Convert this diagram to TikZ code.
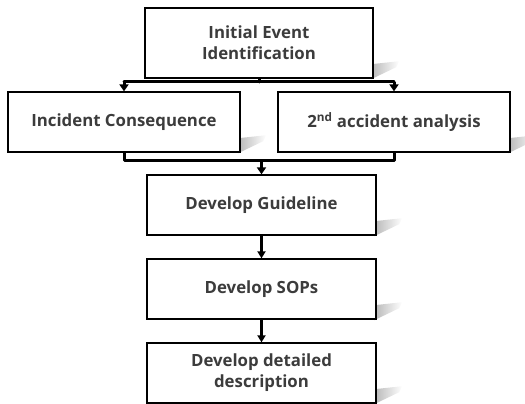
\documentclass[tikz,border=0pt]{standalone}
\usepackage{fontspec}
\setmainfont{Open Sans}
\usetikzlibrary{arrows.meta,calc}
\definecolor{ink}{HTML}{3C3C3C}
\begin{document}
\begin{tikzpicture}[x=1pt,y=-1pt,
  stepbox/.style={draw=black, line width=1.3pt, fill=white, align=center,
    font=\bfseries\fontsize{16.8}{21}\selectfont, text=ink, inner sep=0pt},
  wide/.style={stepbox, minimum width=232pt, minimum height=60pt},
  narrow/.style={stepbox, minimum width=229pt, minimum height=60pt},
  bus/.style={line width=3pt, line cap=round, line join=round},
  feed/.style={line width=2.2pt, -{Triangle[length=7pt,width=8pt]}},
  busarrow/.style={line width=3pt, -{Triangle[length=7pt,width=9pt]}}
]
\useasboundingbox (0,0) rectangle (525,404);

% soft shadow wedge at the lower right corner of a box
\newcommand{\cornershade}[1]{%
  \shade[left color=black!28, right color=white]
    ($(#1.south east)+(-2,-14)$) -- ($(#1.south east)+(26,-17)$) --
    ($(#1.south east)+(23,-11)$) -- ($(#1.south east)+(-2,1)$) -- cycle;}

% shadows first, so the boxes sit on top of them
\path (259,43) node[minimum width=228pt, minimum height=70pt, inner sep=0pt] (s0) {};
\path (124,122) node[minimum width=232pt, minimum height=60pt, inner sep=0pt] (s1) {};
\path (394,122) node[minimum width=232pt, minimum height=60pt, inner sep=0pt] (s2) {};
\path (261.5,205) node[minimum width=229pt, minimum height=60pt, inner sep=0pt] (s3) {};
\path (261.5,289) node[minimum width=229pt, minimum height=60pt, inner sep=0pt] (s4) {};
\path (261.5,373) node[minimum width=229pt, minimum height=60pt, inner sep=0pt] (s5) {};
\foreach \s in {s0,s1,s2,s3,s4,s5} {\cornershade{\s}}

\node[stepbox, minimum width=228pt, minimum height=70pt] (init) at (259,43)
  {Initial Event\\Identification};
\node[wide] (cons) at (124,122) {Incident Consequence};
\node[wide] (second) at (394,122) {2\textsuperscript{nd} accident analysis};
\node[narrow] (guide) at (261.5,205) {Develop Guideline};
\node[narrow] (sops) at (261.5,289) {Develop SOPs};
\node[narrow] (desc) at (261.5,373) {Develop detailed\\description};

% split below the first box
\coordinate (split) at (init.south |- 0,82);
\coordinate (splitL) at (cons.north |- split);
\coordinate (splitR) at (second.north |- split);
\draw[bus] (init.south) -- (split);
\draw[bus] (splitL) -- (splitR);
\draw[busarrow] (splitL) -- (cons.north);
\draw[busarrow] (splitR) -- (second.north);

% merge below the two parallel boxes
\coordinate (mergeL) at (cons.south |- 0,160);
\coordinate (mergeR) at (second.south |- 0,160);
\coordinate (merge) at (guide.north |- 0,160);
\draw[bus] (cons.south) -- (mergeL) -- (mergeR) -- (second.south);
\draw[busarrow] (merge) -- (guide.north);

% sequential steps
\draw[feed] (guide) -- (sops);
\draw[feed] (sops) -- (desc);
\end{tikzpicture}
\end{document}
